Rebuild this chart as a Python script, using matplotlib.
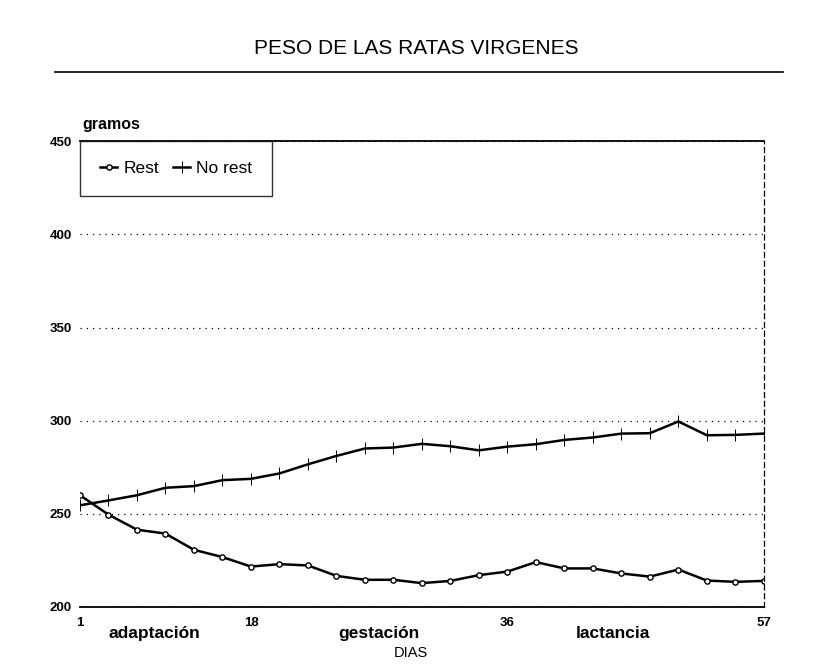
import numpy as np
import matplotlib
matplotlib.use('Agg')
import matplotlib.pyplot as plt
from matplotlib.lines import Line2D

plt.rcParams['font.family'] = ['Liberation Sans', 'DejaVu Sans']

# pesadas (indice de la medida), 25 puntos
rest = [260, 249.6, 241.5, 239.4, 230.7, 226.8, 221.7, 223, 222.3, 216.7,
        214.6, 214.6, 212.8, 214, 217.1, 219, 224.1, 220.7, 220.7, 218,
        216.3, 220.1, 214.2, 213.5, 214]
no_rest = [254.6, 257.2, 260, 264, 264.9, 268.1, 268.8, 271.7, 276.6, 281.1,
           285.1, 285.6, 287.6, 286.3, 284.1, 286.1, 287.4, 289.7, 291, 293.1,
           293.3, 299.6, 292.2, 292.4, 293.1]
tick_idx = [0, 6, 15, 24]
tick_lab = ['1', '18', '36', '57']
fases = ['adaptación', 'gestación', 'lactancia']
fases_pos = [2.6, 10.5, 18.7]
yticks = [200, 250, 300, 350, 400, 450]

x = np.arange(len(rest))

fig = plt.figure(figsize=(8.33, 6.69), dpi=100)
ax = fig.add_axes([0.096, 0.0927, 0.821, 0.696])

ax.plot(x, rest, color='black', lw=1.8, marker='o', ms=3.8,
        mfc='white', mec='black', mew=1.0, label='Rest')
ax.plot(x, no_rest, color='black', lw=1.8, marker='|', ms=8,
        mew=0.7, label='No rest')

ax.set_xlim(0, 24)
ax.set_ylim(200, 450)
ax.set_yticks(yticks)
ax.set_yticklabels([str(v) for v in yticks], fontsize=9.5, fontweight='bold')
ax.set_xticks(tick_idx)
ax.set_xticklabels(tick_lab, fontsize=9.5, fontweight='bold')
ax.tick_params(length=0, pad=6)
ax.tick_params(axis='x', pad=7)
ax.grid(axis='y', linestyle=(0, (1, 4)), color='black', lw=0.9)

ax.spines['left'].set_visible(False)
ax.spines['top'].set_linewidth(1.3)
ax.spines['bottom'].set_linewidth(1.3)
ax.spines['right'].set_linestyle((0, (4, 3)))
ax.spines['right'].set_linewidth(0.9)

for lab, p in zip(fases, fases_pos):
    ax.text(p, -0.04, lab, transform=ax.get_xaxis_transform(),
            ha='center', va='top', fontsize=12.5, fontweight='bold')

ax.text(0.004, 1.02, 'gramos', transform=ax.transAxes, ha='left', va='bottom',
        fontsize=11.5, fontweight='bold')
fig.text(0.493, 0.013, 'DIAS', ha='center', va='bottom', fontsize=10.5)

leg = ax.legend(loc='upper left', bbox_to_anchor=(0.0, 1.0), ncol=2,
                handlelength=1.0, handletextpad=0.35, columnspacing=0.8,
                fancybox=False, edgecolor='black', fontsize=12.5,
                borderpad=1.15, borderaxespad=0.0)
leg.get_frame().set_linewidth(1.0)

fig.text(0.5, 0.927, 'PESO DE LAS RATAS VIRGENES', ha='center', va='center',
         fontsize=15)
fig.add_artist(Line2D([0.066, 0.94], [0.893, 0.893], color='black', lw=1.2))

fig.savefig('out.png', dpi=100)
